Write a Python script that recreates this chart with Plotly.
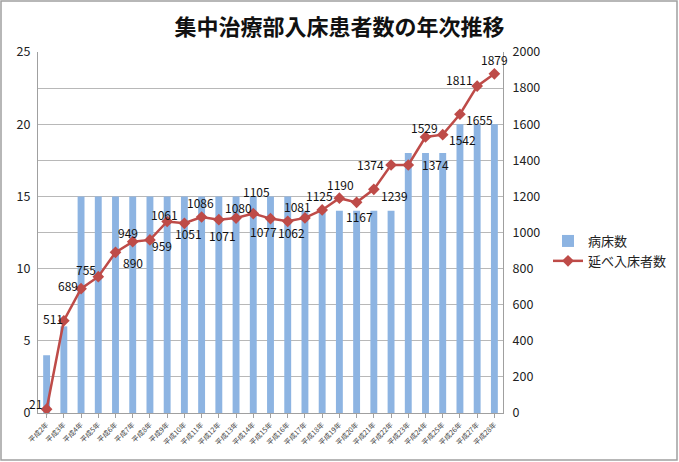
import plotly.graph_objects as go

categories = [f"平成{n}年" for n in range(2, 29)]
beds = [4, 6, 15, 15, 15, 15, 15, 15, 15, 15, 15, 15, 15, 15, 15,
        14, 14, 14, 14, 14, 14, 18, 18, 18, 20, 20, 20]
patients = [21, 511, 689, 755, 890, 949, 959, 1061, 1051, 1086, 1071, 1080, 1105, 1077,
            1062, 1081, 1125, 1190, 1167, 1239, 1374, 1374, 1529, 1542, 1655, 1811, 1879]

# label offsets (pixels) from each point: (dx, dy up)
label_offsets = [(-11, 6), (-11, 2), (-13, 3), (-12, 7), (17, -10), (-5, 9), (12, -6),
                 (-3, 7), (4, -10), (-1, 14), (4, -16), (2, 11), (3, 22), (-7, -13),
                 (4, -11), (-7, 11), (-3, 14), (1, 14), (3, -14), (21, -6), (-21, 0),
                 (27, 0), (-1, 10), (20, -5), (20, -5), (-18, 7), (0, 14)]

FONT = "Noto Sans CJK JP"
RED = "#BE4B48"

fig = go.Figure()
fig.add_trace(go.Bar(
    x=categories, y=beds, name="病床数",
    marker=dict(color="#8DB4E2", line=dict(width=0)),
    yaxis="y",
))
fig.add_trace(go.Scatter(
    x=categories, y=patients, name="延べ入床者数",
    mode="lines+markers",
    line=dict(color=RED, width=2.5),
    marker=dict(symbol="diamond", size=9, color=RED),
    yaxis="y2", cliponaxis=False,
))

annotations = []
for c, v, (dx, dy) in zip(categories, patients, label_offsets):
    annotations.append(dict(
        x=c, y=v, xref="x", yref="y2", text=str(v), showarrow=False,
        xshift=dx, yshift=dy, xanchor="center", yanchor="middle",
        font=dict(family=FONT, size=12, color="#111"),
    ))

W, H = 679, 462
L, R, T, B = 38, 176, 52, 49
pw, ph = W - L - R, H - T - B

def px(xp):
    return (xp - L) / pw

def py(yp):
    return (H - B - yp) / ph

fig.update_layout(
    width=W, height=H,
    margin=dict(l=L, r=R, t=T, b=B, autoexpand=False),
    paper_bgcolor="white", plot_bgcolor="white",
    font=dict(family=FONT, color="#222"),
    title=dict(text="<b>集中治療部入床患者数の年次推移</b>", x=0.5, xref="container",
               xanchor="center", y=1 - 27 / H, yref="container", yanchor="middle",
               font=dict(family=FONT, size=22, color="#111")),
    bargap=0.6,
    showlegend=True,
    legend=dict(x=px(548), y=py(226), xanchor="left", yanchor="top",
                font=dict(family=FONT, size=13, color="#222"),
                bgcolor="rgba(0,0,0,0)", tracegroupgap=6, itemwidth=30),
    xaxis=dict(
        type="category", tickangle=-45, tickfont=dict(family=FONT, size=7, color="#444"),
        showline=True, linecolor="#A0A0A0", linewidth=1, mirror=False,
        ticks="outside", ticklen=4, tickcolor="#A0A0A0", showgrid=False,
        range=[-0.5, len(categories) - 0.5], automargin=False,
    ),
    yaxis=dict(
        range=[0, 25], dtick=5, showgrid=False,
        showline=True, linecolor="#A0A0A0", linewidth=1,
        tickfont=dict(family=FONT, size=12.5, color="#222"),
        ticks="", zeroline=False, automargin=False, ticklabelstandoff=4,
    ),
    yaxis2=dict(
        range=[0, 2000], dtick=200, overlaying="y", side="right",
        showgrid=True, gridcolor="#B8B8B8", gridwidth=1,
        showline=True, linecolor="#A0A0A0", linewidth=1,
        tickfont=dict(family=FONT, size=12.5, color="#222"),
        ticks="", zeroline=False, automargin=False, ticklabelstandoff=6,
    ),
    annotations=annotations,
    shapes=[dict(type="rect", xref="paper", yref="paper",
                 x0=px(1), x1=px(677), y0=py(460), y1=py(1),
                 line=dict(color="#A0A0A0", width=1.5), fillcolor="rgba(0,0,0,0)",
                 layer="below")],
)

fig.write_html(
    "out.html",
    config={"displayModeBar": False},
    post_script=("document.documentElement.style.margin='0';"
                 "document.body.style.margin='0';"
                 "document.body.style.overflow='hidden';"
                 "document.documentElement.style.overflow='hidden';"),
)
